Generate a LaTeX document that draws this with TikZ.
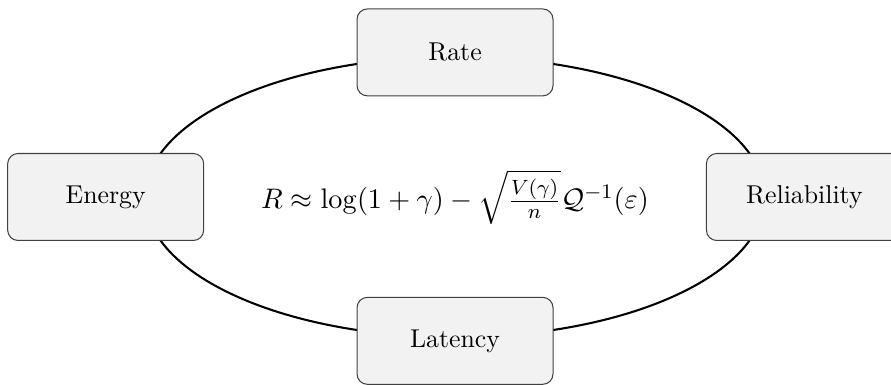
\documentclass[tikz,border=0pt]{standalone}
\usepackage{amsmath,amssymb}
\usepackage{tikz}
\usetikzlibrary{positioning}
\pgfdeclarelayer{background}
\pgfsetlayers{background,main}

\begin{document}
\begin{tikzpicture}[
  metric/.style={rectangle, draw=black!75, fill=gray!10, rounded corners=4pt,
    minimum width=2.67cm, minimum height=1.185cm, inner sep=2pt},
  loop/.style={draw, thick}
]
\useasboundingbox (-6.2,-2.561) rectangle (5.94,2.684);

\node[font=\fontsize{11.45pt}{13pt}\selectfont] (eq) at (0,0) {$R \approx \log(1+\gamma) - \sqrt{\frac{V(\gamma)}{n}}\mathcal{Q}^{-1}(\varepsilon)$};

\node[metric] (rate) at (0,1.97) {Rate};
\node[metric] (energy) at (-4.76,0) {Energy};
\node[metric] (rel) at (4.76,0) {Reliability};
\node[metric] (lat) at (0,-1.96) {Latency};

\begin{pgfonlayer}{background}
  \draw[loop] (eq.center) ellipse [x radius=4.22cm, y radius=1.91cm];
\end{pgfonlayer}

\end{tikzpicture}
\end{document}
